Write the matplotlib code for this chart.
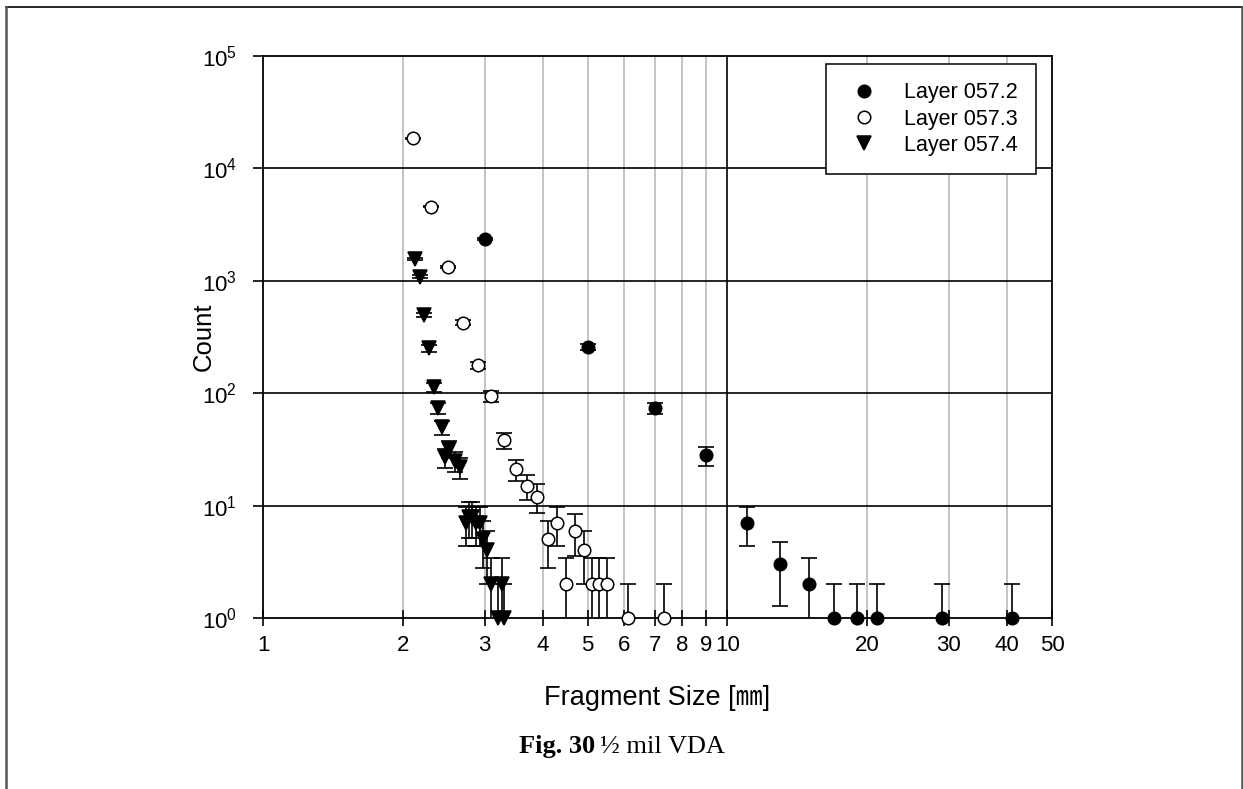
import numpy as np
import matplotlib.pyplot as plt
from matplotlib.lines import Line2D
from matplotlib.ticker import FixedLocator, FixedFormatter, NullLocator

plt.rcParams['font.family'] = ['Liberation Sans', 'Noto Sans CJK JP', 'DejaVu Sans']
plt.rcParams['mathtext.fontset'] = 'custom'
plt.rcParams['mathtext.rm'] = 'Liberation Sans'
plt.rcParams['mathtext.it'] = 'Liberation Sans:italic'
plt.rcParams['mathtext.bf'] = 'Liberation Sans:bold'

# =========================
# DATA
# =========================
x_572 = [3, 5, 7, 9, 11, 13, 15, 17, 19, 21, 29, 41]
n_572 = [2370, 256, 74, 28, 7, 3, 2, 1, 1, 1, 1, 1]

x_573 = [2.1, 2.3, 2.5, 2.7, 2.9, 3.1, 3.3, 3.5, 3.7, 3.9, 4.1, 4.3, 4.5, 4.7,
         4.9, 5.1, 5.3, 5.5, 6.1, 7.3]
n_573 = [18500, 4560, 1330, 424, 178, 94, 38, 21, 15, 12, 5, 7, 2, 6, 4, 2, 2, 2,
         1, 1]

x_574 = [2.125, 2.18, 2.225, 2.275, 2.33, 2.38, 2.43, 2.47, 2.52, 2.59, 2.66,
         2.73, 2.78, 2.82, 2.88, 2.93, 2.98, 3.03, 3.09, 3.27, 3.21, 3.31]
n_574 = [1560, 1090, 500, 250, 113, 74, 50, 27, 32, 25, 22, 7, 8, 8, 7, 7, 5, 4,
         2, 2, 1, 1]

xticks = [1, 2, 3, 4, 5, 6, 7, 8, 9, 10, 20, 30, 40, 50]
xticklabels = [str(t) for t in xticks]
grey_grid = [2, 3, 4, 5, 6, 7, 8, 9, 20, 30, 40]
labels = ["Layer 057.2", "Layer 057.3", "Layer 057.4"]

# =========================
# PLOT
# =========================
fig = plt.figure(figsize=(12.43, 7.89), dpi=100)
ax = fig.add_axes([0.2116, 0.2167, 0.6347, 0.7123])
ax.set_xscale('log')
ax.set_yscale('log')
ax.set_xlim(1, 50)
ax.set_ylim(1, 1e5)

# grid
for g in grey_grid:
    ax.axvline(g, color='#c0c0c0', lw=1.3, zorder=0)
ax.axvline(10, color='black', lw=1.2, zorder=1)
for g in [10, 100, 1000, 10000]:
    ax.axhline(g, color='black', lw=1.2, zorder=1)

series = [(x_572, n_572, 'o', 'black', 9),
          (x_573, n_573, 'o', 'white', 9),
          (x_574, n_574, 'v', 'black', 10.5)]

for (xs, ns, m, fc, ms), lab in zip(series, labels):
    ns = np.array(ns, dtype=float)
    ax.errorbar(xs, ns, yerr=np.sqrt(ns), fmt='none', ecolor='black',
                elinewidth=1.2, capsize=5.5, capthick=1.2, zorder=3)
    ax.plot(xs, ns, linestyle='none', marker=m, markersize=ms,
            markerfacecolor=fc, markeredgecolor='black', markeredgewidth=1.1,
            label=lab, zorder=4, clip_on=False)

# ticks
ax.xaxis.set_major_locator(FixedLocator(xticks))
ax.xaxis.set_major_formatter(FixedFormatter(xticklabels))
ax.xaxis.set_minor_locator(NullLocator())
ax.yaxis.set_minor_locator(NullLocator())
ax.tick_params(axis='x', which='major', direction='inout', length=11,
               width=1.2, labelsize=16, pad=7)
ax.tick_params(axis='y', which='major', direction='out', length=7,
               width=1.2, labelsize=16, pad=12)

for sp in ax.spines.values():
    sp.set_linewidth(1.3)

ax.set_ylabel("Count", fontsize=18.5)
ax.yaxis.set_label_coords(-0.06, 0.5)
ax.set_xlabel("Fragment Size [㎜]", fontsize=19.5, va='top')
ax.xaxis.set_label_coords(0.5, -0.12)

leg = ax.legend(loc='upper right', bbox_to_anchor=(0.98, 0.986),
                borderaxespad=0, fontsize=15.5, frameon=True, fancybox=False,
                framealpha=1, edgecolor='black', borderpad=0.85,
                handlelength=1.9, handletextpad=0.9, labelspacing=0.25)
leg.get_frame().set_linewidth(1.1)

# caption: bold part then regular part right after it
cap_y = 1 - 747 / 789
t1 = fig.text(519 / 1243, cap_y, "Fig. 30", family='Liberation Serif',
              fontweight='bold', fontsize=19, ha='left', va='center')
fig.canvas.draw()
bb = t1.get_window_extent()
fig.text((bb.x1 + 5) / 1243, cap_y, "½ mil VDA", family='Liberation Serif',
         fontsize=19, ha='left', va='center')

# page frame
fx0, fy0, fx1 = 6 / 1243, 1 - 7 / 789, 1242 / 1243
fig.add_artist(Line2D([fx0, fx1], [fy0, fy0], transform=fig.transFigure,
                      color='black', lw=1.2))
fig.add_artist(Line2D([fx0, fx0], [0, fy0], transform=fig.transFigure,
                      color='#555555', lw=1.8))
fig.add_artist(Line2D([fx1, fx1], [0, fy0], transform=fig.transFigure,
                      color='#555555', lw=1.8))

plt.savefig("out.png", dpi=100)
